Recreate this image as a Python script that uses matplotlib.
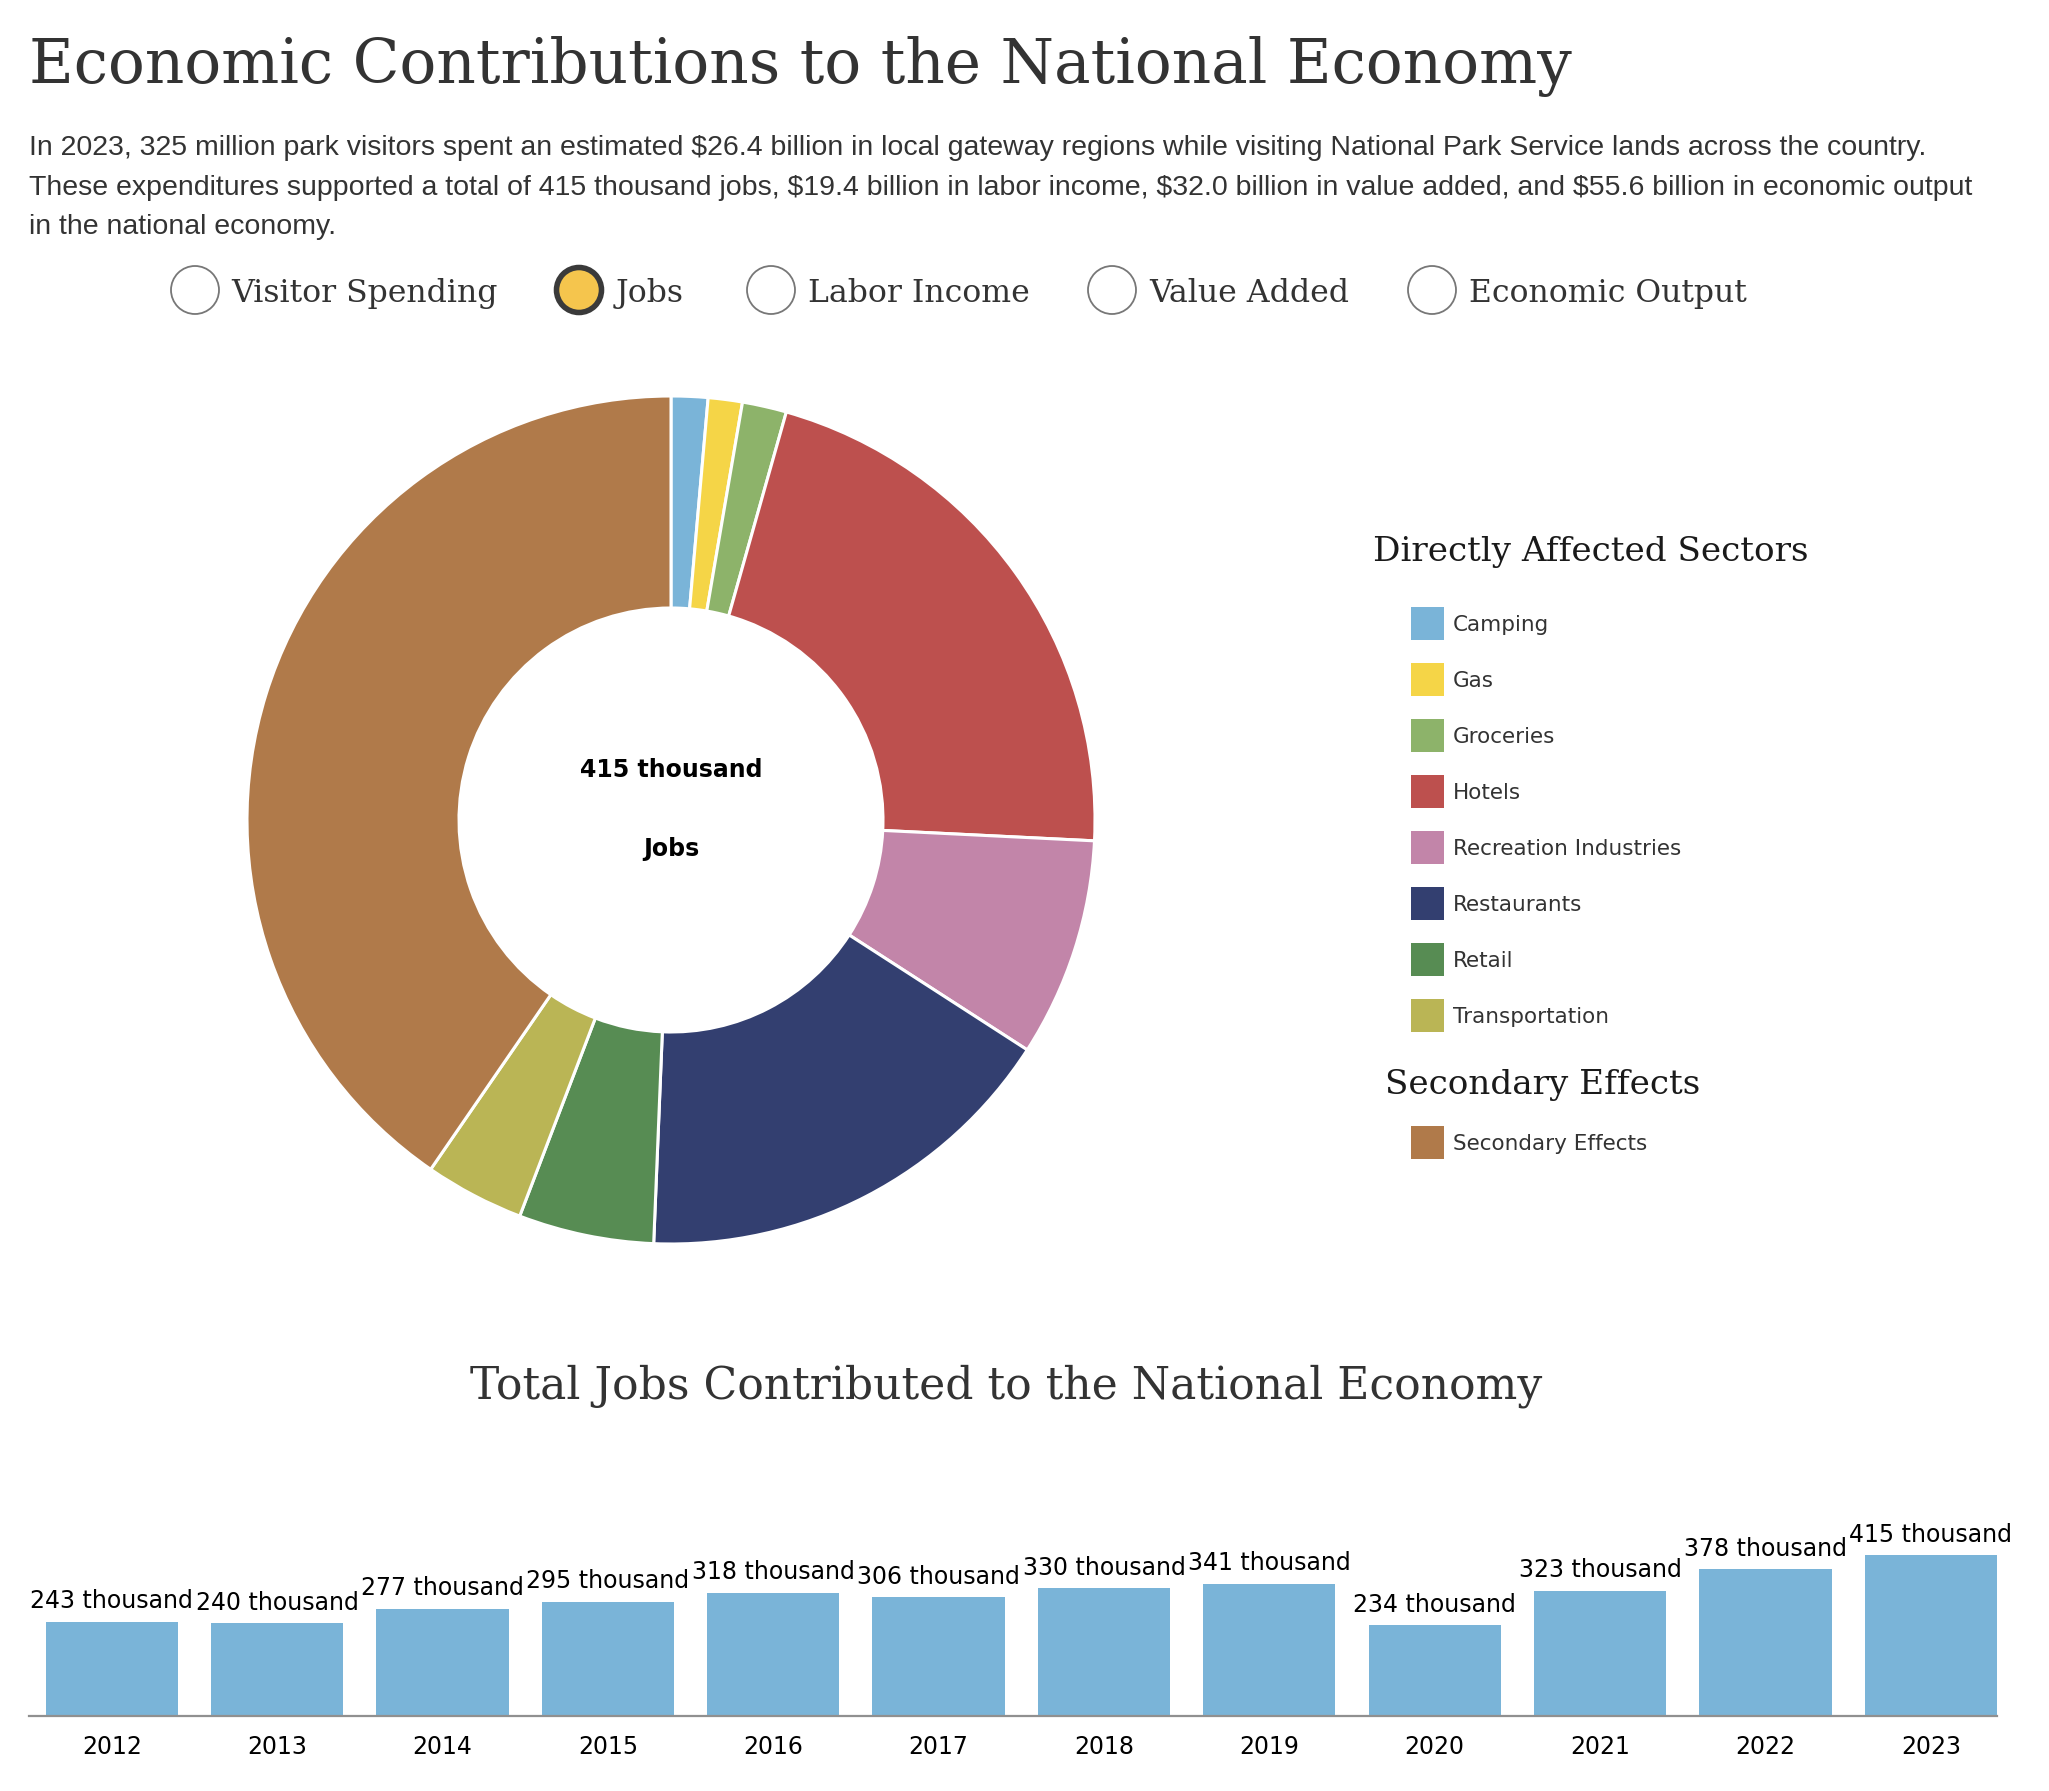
import numpy as np
import matplotlib
matplotlib.use("Agg")
import matplotlib.pyplot as plt
from matplotlib.patches import Circle, Rectangle

# ---------------- data ----------------
sectors = ["Camping", "Gas", "Groceries", "Hotels", "Recreation Industries",
           "Restaurants", "Retail", "Transportation", "Secondary Effects"]
sector_jobs = [5.8, 5.4, 7.0, 88.8, 34.6, 68.6, 21.4, 15.7, 167.7]   # thousand jobs
sector_colors = ["#7ab4d8", "#f5d547", "#8db36a", "#bd504e", "#c285a9",
                 "#333f70", "#578c53", "#bab555", "#b07a4a"]
direct_sectors = sectors[:8]
secondary_sectors = sectors[8:]

years = [2012, 2013, 2014, 2015, 2016, 2017, 2018, 2019, 2020, 2021, 2022, 2023]
total_jobs = [243, 240, 277, 295, 318, 306, 330, 341, 234, 323, 378, 415]

radio_options = ["Visitor Spending", "Jobs", "Labor Income", "Value Added", "Economic Output"]
selected_option = "Jobs"

title = "Economic Contributions to the National Economy"
subtitle_lines = [
    "In 2023, 325 million park visitors spent an estimated $26.4 billion in local gateway regions while visiting National Park Service lands across the country.",
    "These expenditures supported a total of 415 thousand jobs, $19.4 billion in labor income, $32.0 billion in value added, and $55.6 billion in economic output",
    "in the national economy.",
]
center_value = "415 thousand"
center_label = "Jobs"
bar_title = "Total Jobs Contributed to the National Economy"

# ---------------- figure ----------------
W, H = 2049, 1791
fig = plt.figure(figsize=(W / 100, H / 100), dpi=100)
fig.patch.set_facecolor("white")

bg = fig.add_axes([0, 0, 1, 1])
bg.set_xlim(0, W)
bg.set_ylim(H, 0)
bg.axis("off")

renderer = fig.canvas.get_renderer()
SERIF = "DejaVu Serif"
SANS = "Liberation Sans"


def fit_text(x, y, s, width, size=20, **kw):
    t = bg.text(x, y, s, fontsize=size, parse_math=False, **kw)
    w = t.get_window_extent(renderer).width
    t.set_fontsize(size * width / w)
    return t


# title
fit_text(29, 83, title, 1542, size=44, family=SERIF, color="#333333", va="baseline")

# subtitle
t1 = fit_text(29, 155, subtitle_lines[0], 1897, size=18, family=SANS, color="#333333", va="baseline")
fs_sub = t1.get_fontsize()
for line, yb in zip(subtitle_lines[1:], [195, 234]):
    bg.text(29, yb, line, fontsize=fs_sub, family=SANS, color="#333333", va="baseline", parse_math=False)

# radio buttons
radio_cx = [195, 579, 771, 1112, 1432]
radio_y = 290
tr = fit_text(radio_cx[0] + 36, 302, radio_options[0], 267, size=24, family=SERIF, color="#333333", va="baseline")
fs_radio = tr.get_fontsize()
for cxr, opt in zip(radio_cx, radio_options):
    if opt == selected_option:
        bg.add_patch(Circle((cxr, radio_y), 22.5, facecolor="#f5c54d", edgecolor="#3a3a3a", lw=4))
    else:
        bg.add_patch(Circle((cxr, radio_y), 24, facecolor="white", edgecolor="#777777", lw=1.3))
    if opt != radio_options[0]:
        bg.text(cxr + 37, 302, opt, fontsize=fs_radio, family=SERIF, color="#333333", va="baseline")

# ---------------- donut ----------------
cx, cy, R = 671, 820, 424
half = 450
dax = fig.add_axes([(cx - half) / W, 1 - (cy + half) / H, 2 * half / W, 2 * half / H])
dax.pie(sector_jobs, colors=sector_colors, startangle=90, counterclock=False, radius=1,
        wedgeprops=dict(width=0.5, edgecolor="white", linewidth=2.2))
lim = half / R
dax.set_xlim(-lim, lim)
dax.set_ylim(-lim, lim)
dax.axis("off")

bg.text(cx, 770, center_value, fontsize=17, fontweight="bold", family="DejaVu Sans",
        ha="center", va="center", color="black")
bg.text(cx, 849, center_label, fontsize=17, fontweight="bold", family="DejaVu Sans",
        ha="center", va="center", color="black")

# ---------------- legend ----------------
th = fit_text(1373, 561, "Directly Affected Sectors", 436, size=24, family=SERIF, color="#1a1a1a", va="baseline")
fs_head = th.get_fontsize()
color_of = dict(zip(sectors, sector_colors))
for i, name in enumerate(direct_sectors):
    yc = 623 + i * 56
    bg.add_patch(Rectangle((1411, yc - 16.5), 33, 33, facecolor=color_of[name], edgecolor="none"))
    bg.text(1453, yc + 8, name, fontsize=15.5, family="DejaVu Sans", color="#333333", va="baseline")

bg.text(1385, 1094, "Secondary Effects", fontsize=fs_head, family=SERIF, color="#1a1a1a", va="baseline")
for i, name in enumerate(secondary_sectors):
    yc = 1142 + i * 56
    bg.add_patch(Rectangle((1411, yc - 16.5), 33, 33, facecolor=color_of[name], edgecolor="none"))
    bg.text(1453, yc + 8, name, fontsize=15.5, family="DejaVu Sans", color="#333333", va="baseline")

# ---------------- bar chart ----------------
fit_text(470, 1398, bar_title, 1073, size=30, family=SERIF, color="#333333", va="baseline")

base = 1716
hpx = 200
bax = fig.add_axes([29 / W, 1 - base / H, (1997 - 29) / W, hpx / H])
xpos = np.arange(len(years))
bars = bax.bar(xpos, total_jobs, width=0.8, color="#7ab4d8")
bax.set_xlim(-0.5, len(years) - 0.6)
bax.set_ylim(0, hpx * 415 / 161)
for s in ["top", "left", "right"]:
    bax.spines[s].set_visible(False)
bax.spines["bottom"].set_color("#909090")
bax.spines["bottom"].set_linewidth(1.6)
bax.set_yticks([])
bax.set_xticks(xpos, [str(y) for y in years], fontsize=17, family="DejaVu Sans")
bax.tick_params(axis="x", length=0, pad=14, colors="black")
bax.bar_label(bars, labels=[f"{v} thousand" for v in total_jobs], padding=6,
              fontsize=17, family="DejaVu Sans", color="black")
bax.patch.set_visible(False)

fig.savefig("out.png", dpi=100, facecolor="white")
